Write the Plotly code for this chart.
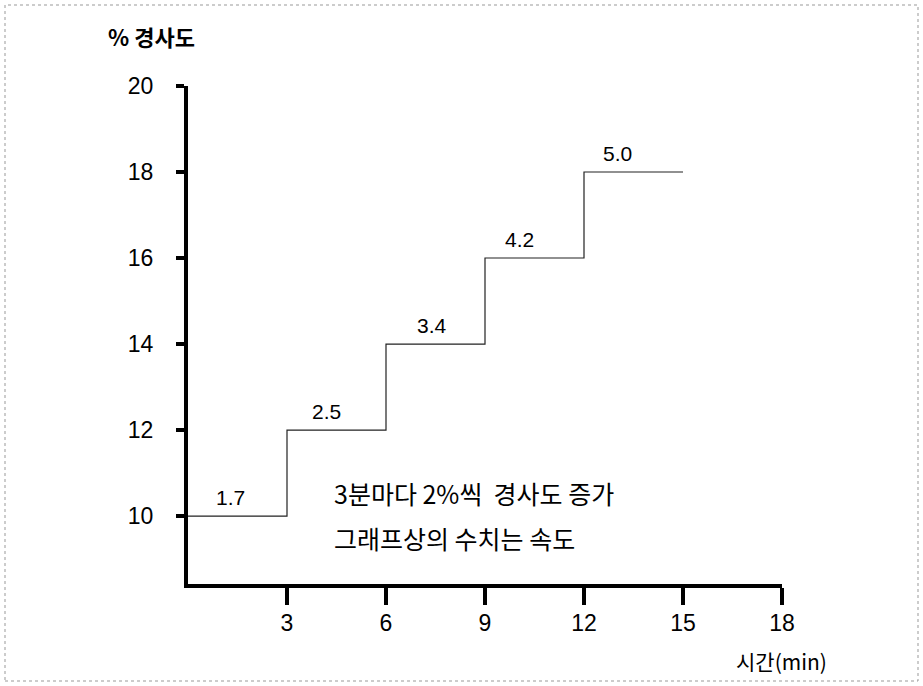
import plotly.graph_objects as go

# Data
time_min = [0, 3, 6, 9, 12, 15]
grade_pct = [10, 12, 14, 16, 18, 18]
speed_labels = ["1.7", "2.5", "3.4", "4.2", "5.0"]
speed_label_x = [1.3, 4.2, 7.4, 10.05, 13.0]
speed_label_y = [10, 12, 14, 16, 18]
x_ticks = [3, 6, 9, 12, 15, 18]
y_ticks = [10, 12, 14, 16, 18, 20]

FONT = "Liberation Sans, Noto Sans CJK KR, sans-serif"
KFONT = "Noto Sans CJK KR, Liberation Sans, sans-serif"

W, H = 923, 686
L, R, T, B = 188, 141, 86, 102
pw, ph = W - L - R, H - T - B

fig = go.Figure()
fig.add_trace(go.Scatter(
    x=time_min, y=grade_pct, mode="lines", line_shape="hv",
    line=dict(color="#222222", width=1.2), hoverinfo="skip", showlegend=False))

annotations = []
for lx, ly, t in zip(speed_label_x, speed_label_y, speed_labels):
    annotations.append(dict(x=lx, y=ly, text=t, showarrow=False, yanchor="bottom",
                            yshift=5, font=dict(size=21, color="black", family=FONT)))

def px_to_paper(x, y):
    return (x - L) / pw, 1 - (y - T) / ph

for text, px, py, size in [
    ("<b>% 경사도</b>", 106, 36, 22),
    ("3분마다 2%씩  경사도 증가", 332, 493, 25),
    ("그래프상의 수치는 속도", 332, 538, 25),
    ("시간(min)", 734, 661, 21),
]:
    ax, ay = px_to_paper(px, py)
    annotations.append(dict(xref="paper", yref="paper", x=ax, y=ay, text=text,
                            showarrow=False, xanchor="left", yanchor="middle",
                            font=dict(size=size, color="black", family=KFONT)))

bx0, by0 = px_to_paper(5, 5)
bx1, by1 = px_to_paper(918, 681)

fig.update_layout(
    width=W, height=H,
    margin=dict(l=L, r=R, t=T, b=B),
    paper_bgcolor="white", plot_bgcolor="white",
    font=dict(family=FONT, color="black"),
    annotations=annotations,
    shapes=[dict(type="rect", xref="paper", yref="paper", x0=bx0, y0=by1, x1=bx1, y1=by0,
                 line=dict(color="#999999", width=1, dash="dot"), layer="below")],
    xaxis=dict(range=[0, 18], tickvals=x_ticks, showgrid=False, zeroline=False,
               showline=True, linewidth=4, linecolor="black",
               ticks="outside", ticklen=17, tickwidth=4, tickcolor="black",
               tickfont=dict(size=23, family=FONT), ticklabelstandoff=-2),
    yaxis=dict(range=[8.42, 20], tickvals=y_ticks, showgrid=False, zeroline=False,
               showline=True, linewidth=4, linecolor="black",
               ticks="outside", ticklen=8, tickwidth=4, tickcolor="black",
               tickfont=dict(size=23, family=FONT), ticklabelstandoff=18),
)

fig.write_html("out.html", config={"displayModeBar": False},
               post_script="document.body.style.margin='0';document.body.style.overflow='hidden';")
